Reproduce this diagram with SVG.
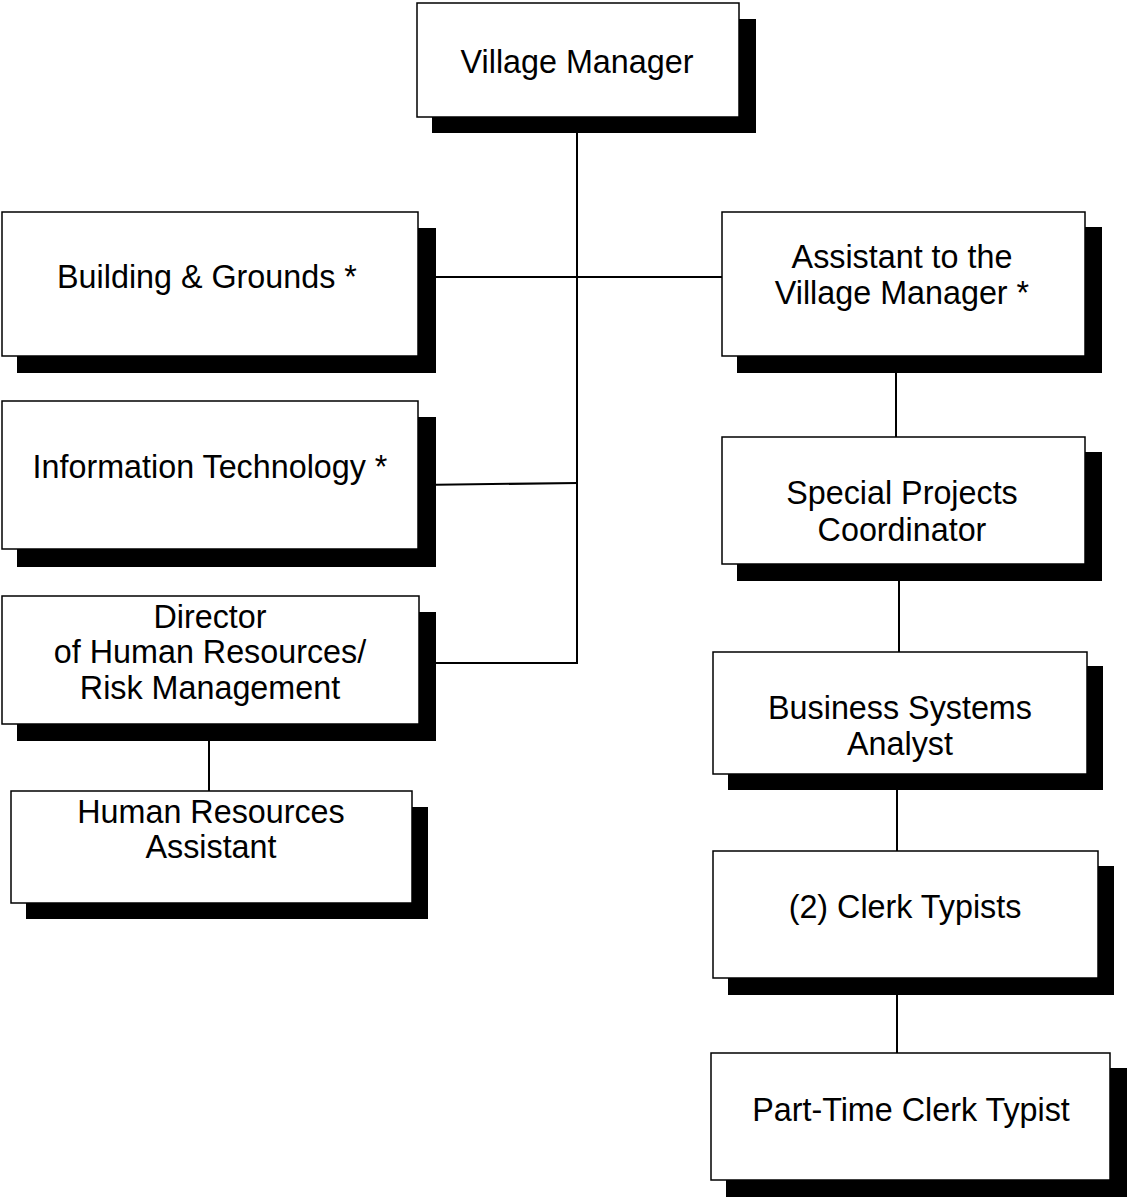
<svg xmlns="http://www.w3.org/2000/svg" width="1127" height="1199" viewBox="0 0 1127 1199">
<style>
.sh{fill:#000}
.bx{fill:#fff;stroke:#000;stroke-width:1.5}
.t{font-family:"Liberation Sans",Arial,sans-serif;font-size:32.3px;fill:#000;text-anchor:middle}
.c{stroke:#000;stroke-width:2;fill:none}
</style>
<rect width="1127" height="1199" fill="#fff"/>
<g id="connectors">
<line class="c" x1="577" y1="133" x2="577" y2="664"/>
<line class="c" x1="418" y1="277" x2="722" y2="277"/>
<line class="c" x1="418" y1="485" x2="578" y2="483"/>
<line class="c" x1="419" y1="663" x2="578" y2="663"/>
<line class="c" x1="209" y1="741" x2="209" y2="791"/>
<line class="c" x1="896" y1="373" x2="896" y2="437"/>
<line class="c" x1="899" y1="581" x2="899" y2="652"/>
<line class="c" x1="897" y1="790" x2="897" y2="851"/>
<line class="c" x1="897" y1="995" x2="897" y2="1053"/>
</g>
<g id="village-manager">
<rect class="sh" x="432" y="19" width="324" height="114"/>
<rect class="bx" x="417" y="3" width="322" height="114"/>
<text class="t" x="577" y="73">Village Manager</text>
</g>
<g id="building-grounds">
<rect class="sh" x="17" y="228" width="419" height="145"/>
<rect class="bx" x="2" y="212" width="416" height="144"/>
<text class="t" x="207" y="288">Building &amp; Grounds *</text>
</g>
<g id="information-technology">
<rect class="sh" x="17" y="417" width="419" height="150"/>
<rect class="bx" x="2" y="401" width="416" height="148"/>
<text class="t" x="210" y="478">Information Technology *</text>
</g>
<g id="director-hr">
<rect class="sh" x="17" y="612" width="419" height="129"/>
<rect class="bx" x="2" y="596" width="417" height="128"/>
<text class="t" x="210" y="628">Director</text>
<text class="t" x="210" y="663">of Human Resources/</text>
<text class="t" x="210" y="699">Risk Management</text>
</g>
<g id="hr-assistant">
<rect class="sh" x="26" y="807" width="402" height="112"/>
<rect class="bx" x="11" y="791" width="401" height="112"/>
<text class="t" x="211" y="823">Human Resources</text>
<text class="t" x="211" y="858">Assistant</text>
</g>
<g id="assistant-vm">
<rect class="sh" x="737" y="227" width="365" height="146"/>
<rect class="bx" x="722" y="212" width="363" height="144"/>
<text class="t" x="902" y="268">Assistant to the</text>
<text class="t" x="902" y="304">Village Manager *</text>
</g>
<g id="special-projects">
<rect class="sh" x="737" y="452" width="365" height="129"/>
<rect class="bx" x="722" y="437" width="363" height="127"/>
<text class="t" x="902" y="504">Special Projects</text>
<text class="t" x="902" y="541">Coordinator</text>
</g>
<g id="business-systems">
<rect class="sh" x="728" y="666" width="375" height="124"/>
<rect class="bx" x="713" y="652" width="374" height="122"/>
<text class="t" x="900" y="719">Business Systems</text>
<text class="t" x="900" y="755">Analyst</text>
</g>
<g id="clerk-typists">
<rect class="sh" x="728" y="866" width="386" height="129"/>
<rect class="bx" x="713" y="851" width="385" height="127"/>
<text class="t" x="905" y="918">(2) Clerk Typists</text>
</g>
<g id="part-time-clerk">
<rect class="sh" x="726" y="1068" width="401" height="129"/>
<rect class="bx" x="711" y="1053" width="399" height="127"/>
<text class="t" x="911" y="1121">Part-Time Clerk Typist</text>
</g>
</svg>
